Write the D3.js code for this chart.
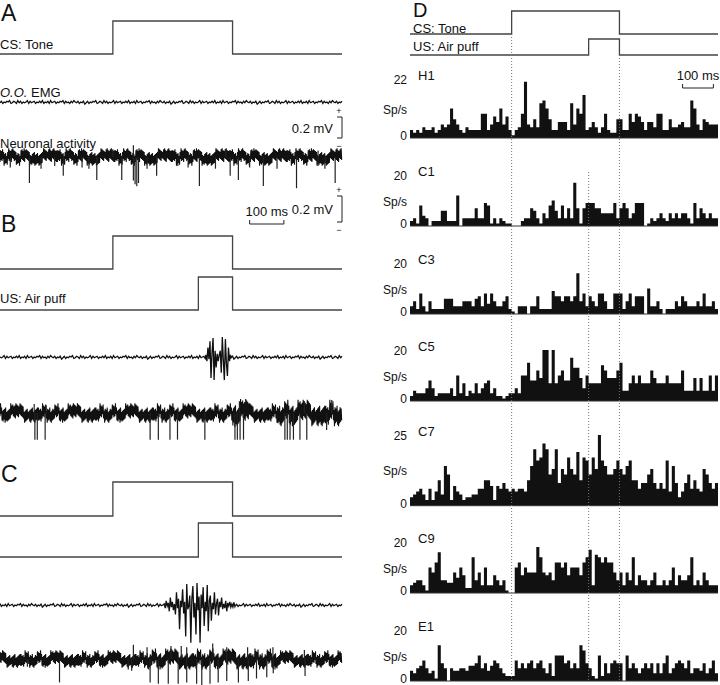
<!DOCTYPE html>
<html>
<head>
<meta charset="utf-8">
<script src="https://cdn.jsdelivr.net/npm/d3@7"></script>
<style>
body{margin:0;background:#fff;}
text{font-family:"Liberation Sans",Arial,sans-serif;fill:#111;}
</style>
</head>
<body>
<div id="chart"></div>
<script>
// time axis shared by all panels (ms from CS onset)
var tStart = -330, tEnd = 670, binMs = 10;
var csOn = 0, csOff = 350, usOn = 250, usOff = 350;

// PSTH units (panel D), spikes/s per 10 ms bin
var units = ["H1","C1","C3","C5","C7","C9","E1"];
var unitMax = [22,20,20,20,25,20,20];
var H1 = [3,2,3,2,4,3,3,4,2,3,5,4,5,11,7,5,3,2,4,3,3,3,3,9,9,3,5,8,6,11,5,8,3,1,3,4,9,21,5,4,7,4,13,14,11,7,3,3,6,6,6,3,13,5,11,9,16,3,4,6,4,2,4,9,3,2,2,7,7,3,3,9,6,9,8,6,3,6,6,4,9,9,3,3,7,4,4,5,6,4,4,14,11,5,3,7,6,5,5,5];
var C1 = [2,3,1,8,4,3,0,2,2,2,6,6,2,2,2,12,0,3,3,3,3,7,3,3,9,8,1,3,1,3,2,1,1,0,0,0,2,3,3,7,6,3,1,5,3,8,10,6,3,8,3,7,3,17,7,1,7,9,9,9,7,7,5,5,5,5,9,3,7,9,7,3,5,9,9,9,0,1,3,2,3,5,3,2,5,3,5,3,5,5,3,1,9,3,7,5,3,5,3,3];
var C3 = [3,5,2,8,3,1,5,2,2,2,2,6,6,6,3,3,3,5,5,5,3,6,7,3,8,4,8,5,3,3,5,7,2,1,0,3,3,3,0,3,3,7,2,2,2,2,9,7,7,5,7,7,5,7,16,5,8,3,7,5,3,8,8,5,2,2,8,8,8,2,5,8,3,7,7,7,0,10,3,3,5,2,0,2,2,2,5,3,7,5,3,3,3,5,3,8,3,3,5,2];
var C5 = [2,4,3,3,3,5,8,5,2,3,3,3,3,5,2,10,3,7,2,4,3,7,3,5,7,8,3,5,2,2,1,2,3,3,5,3,10,10,15,8,8,12,9,20,20,7,20,7,10,12,8,8,17,13,13,9,5,10,7,7,7,7,14,12,9,9,9,12,15,4,4,7,10,7,10,7,7,7,12,9,7,7,7,10,7,7,7,7,12,4,4,4,9,4,9,4,4,10,4,10];
var C7 = [3,4,5,6,4,2,6,2,5,9,4,14,11,2,7,5,4,2,3,3,4,4,6,6,9,9,7,2,7,6,8,6,5,6,5,6,6,5,9,14,20,16,17,22,20,11,13,20,8,13,11,17,13,11,19,9,17,16,11,17,13,25,16,14,11,11,13,16,13,11,14,16,9,9,6,8,8,11,13,8,6,8,6,16,5,14,8,3,5,8,11,6,9,6,5,13,11,8,6,8];
var C9 = [3,4,5,5,3,1,10,8,12,16,5,5,4,4,8,6,10,7,2,2,14,5,8,3,10,3,3,7,5,3,5,1,0,0,10,12,7,10,8,8,8,18,14,8,7,8,5,12,12,10,12,7,10,10,10,7,12,14,17,3,15,14,12,14,12,12,8,5,8,3,8,5,14,3,7,5,5,3,5,8,3,3,5,3,5,10,3,7,5,5,7,14,3,5,3,8,5,3,3,3];
var E1 = [4,3,5,6,8,5,3,4,1,14,7,5,0,5,4,4,5,5,4,6,6,7,10,5,7,4,6,8,7,5,3,2,2,2,8,5,7,5,7,8,5,7,8,5,3,7,2,10,10,10,7,8,5,7,5,14,12,7,5,2,1,10,2,7,3,7,8,7,7,0,10,5,7,5,3,5,7,5,7,3,7,3,7,10,3,5,7,8,7,5,8,3,5,5,4,7,3,5,8,3];
var rates = [H1,C1,C3,C5,C7,C9,E1];

// raw traces (panels A-C): typed noise strings, EMG bursts (uV), spikes [ms, uV]
var emgNoise = "463546573465374635457364563546473546374563546573645364754635462";
var neuroNoise = "5736482593746185294736581927463582746391572836495718273645927183647592837461928374651928374615283947561829374657";
var bBurst = [20,-40,90,-20,150,-200,40,180,-220,60,-100,30,-40,20,60,-150,190,-30,-220,170,-60,-180,90,-40,20];
var cBurst = [10,-30,40,-10,20,-60,70,-20,30,-50,10,-90,120,-30,60,-230,40,-20,150,-80,30,-300,200,-40,-10,90,-360,60,180,-120,20,-280,210,-50,80,-360,100,-30,170,-200,30,-60,190,-250,40,90,-150,20,-40,120,-90,10,60,-100,30,-20,70,-40,10,-30,40,-60,20,-10,30,-20,10,-20,25,-15];
var aSpikes = [[-244,-200],[-145,-144],[-47,-176],[26,-176],[60,-180],[65,-210],[70,-225],[75,-200],[128,-144],[253,-224],[343,-144],[367,-176],[440,-224],[537,-240],[650,-200],
  [-300,-80],[-210,-90],[-170,-70],[-90,-80],[-70,-90],[100,-90],[190,-70],[220,-80],[300,-90],[400,-80],[480,-90],[600,-70],[620,-90],
  [0,60],[60,90],[330,60],[600,50]];
var bSpikes = [[-228,-205],[-221,-205],[-198,-205],[109,-205],[133,-205],[167,-205],[189,-205],[269,-205],[357,-205],[364,-205],[372,-205],[382,-205],[503,-205],[510,-205],[518,-205],[528,-205],[547,-205],[567,-205],[625,-130],
  [-230,70],[-195,60],[370,90],[560,90],[640,100]];
var cSpikes = [[-156,-180],[109,-180],[133,-190],[162,-190],[191,-190],[216,-180],[245,-190],[260,-200],[284,-190],[308,-180],[333,-170],[367,-180],[396,-170],[420,-150],[450,-140],[469,-110],[562,-130],[45,-80],[55,-90],[-250,-60],
  [60,110],[100,90],[170,100],[200,100],[216,90],[292,120],[333,90],[394,90],[468,90],[560,70]];
var aGain = [[-330,670,1]];
var bGain = [[-330,350,1.1],[350,400,1.6],[400,480,1.1],[480,670,1.5]];
var cGain = [[-330,100,1],[100,480,1.2],[480,670,1]];

var svg = d3.select('#chart').append('svg').attr('width',720).attr('height',685);

var xL = d3.scaleLinear().domain([tStart,tEnd]).range([0,342]);
var xR = d3.scaleLinear().domain([tStart,tEnd]).range([410,718]);
var emgAmp = d3.scaleLinear().domain([0,200]).range([0,21]);
var neuroAmp = d3.scaleLinear().domain([0,200]).range([0,26]);

function label(x,y,txt,size,anchor){
    return svg.append('text').attr('x',x).attr('y',y)
	.attr('font-size',size).attr('text-anchor',anchor||'start').text(txt);
}

function stimTrace(x,on,off,yLow,yHigh){
    var y = d3.scaleLinear().domain([0,1]).range([yLow,yHigh]);
    var pts = [[x.domain()[0],0],[on,0],[on,1],[off,1],[off,0],[x.domain()[1],0]];
    svg.append('path')
	.attr('d',d3.line().x(function(d){return x(d[0]);}).y(function(d){return y(d[1]);})(pts))
	.attr('fill','none').attr('stroke','#444').attr('stroke-width',1.3);
}

function emgTrace(yc,offset,burst,bStart,bStep){
    var pts = [];
    var bEnd = burst ? bStart+bStep*(burst.length-1) : null;
    for (var i=0; tStart+4*i<=tEnd; i++){
	var t = tStart+4*i;
	if (burst && t>=bStart && t<=bEnd) continue;
	pts.push([t,(+emgNoise.charAt((i+offset)%emgNoise.length)-5)*7]);
    }
    if (burst){
	burst.forEach(function(v,j){ pts.push([bStart+bStep*j,v]); });
	pts.sort(function(a,b){return a[0]-b[0];});
    }
    svg.append('path')
	.attr('d',d3.line().x(function(d){return xL(d[0]);})
	      .y(function(d){return yc-Math.sign(d[1])*emgAmp(Math.abs(d[1]));})(pts))
	.attr('fill','none').attr('stroke','#111').attr('stroke-width',1.3);
}

function gainAt(gains,t){
    for (var g of gains){ if (t>=g[0] && t<=g[1]) return g[2]; }
    return 1;
}

function neuroTrace(yc,offset,gains,spikes){
    var pts = [];
    for (var i=0; tStart+1.5*i<=tEnd; i++){
	var t = tStart+1.5*i;
	var d = +neuroNoise.charAt((i+offset)%neuroNoise.length);
	pts.push([t,(i%2 ? 1 : -1)*d*7.5*gainAt(gains,t)]);
    }
    svg.append('path')
	.attr('d',d3.line().x(function(d){return xL(d[0]);})
	      .y(function(d){return yc-Math.sign(d[1])*neuroAmp(Math.abs(d[1]));})(pts))
	.attr('fill','none').attr('stroke','#111').attr('stroke-width',1.1);
    svg.selectAll(null).data(spikes).enter().append('line')
	.attr('x1',function(d){return xL(d[0]);}).attr('x2',function(d){return xL(d[0]);})
	.attr('y1',yc)
	.attr('y2',function(d){return yc-Math.sign(d[1])*neuroAmp(Math.abs(d[1]));})
	.attr('stroke','#222').attr('stroke-width',1.2);
}

function ampBar(x,yTop,scale){
    var h = scale(200);
    svg.append('path')
	.attr('d','M'+(x-5)+','+yTop+'H'+x+'V'+(yTop+h)+'H'+(x-5))
	.attr('fill','none').attr('stroke','#222').attr('stroke-width',1);
    label(x-3,yTop-3,'+',9,'middle');
    label(x-3,yTop+h+11,'\u2212',9,'middle');
    label(x-9,yTop+h/2+5,'0.2 mV',13,'end');
}

function timeBar(x,t0,y){
    svg.append('path')
	.attr('d','M'+x(t0)+','+(y-4)+'V'+y+'H'+x(t0+100)+'V'+(y-4))
	.attr('fill','none').attr('stroke','#222').attr('stroke-width',1);
    label((x(t0)+x(t0+100))/2,y-8,'100 ms',13,'middle');
}

// ---- panel A
label(1,21,'A',23);
stimTrace(xL,csOn,csOff,54,21);
label(0,49,'CS: Tone',13);
var emgLbl = label(0,97,'',13);
emgLbl.append('tspan').attr('font-style','italic').text('O.O.');
emgLbl.append('tspan').text(' EMG');
emgTrace(102,0);
ampBar(342,117,emgAmp);
label(0,148,'Neuronal activity',13);
neuroTrace(157,0,aGain,aSpikes);
ampBar(342,196,neuroAmp);
timeBar(xL,400,224);

// ---- panel B
label(1,232,'B',23);
stimTrace(xL,csOn,csOff,269,236);
stimTrace(xL,usOn,usOff,310,277);
label(0,303,'US: Air puff',13);
emgTrace(357,17,bBurst,272,3);
neuroTrace(413,37,bGain,bSpikes);

// ---- panel C
label(1,482,'C',23);
stimTrace(xL,csOn,csOff,516,482);
stimTrace(xL,usOn,usOff,557,523);
emgTrace(605,31,cBurst,150,3);
neuroTrace(659,71,cGain,cSpikes);

// ---- panel D
label(413,17,'D',20);
stimTrace(xR,csOn,csOff,34,11);
stimTrace(xR,usOn,usOff,55,39);
label(413,33,'CS: Tone',13);
label(413,51,'US: Air puff',13);
timeBar(xR,555,88);

var bases = [138,226,314,401,505.7,593,681];
var tops = [79,175,263,350,435,542,630];

rates.forEach(function(vals,i){
    var y = d3.scaleLinear().domain([0,unitMax[i]]).range([bases[i],tops[i]]);
    var pts = vals.concat([vals[vals.length-1]]);
    svg.append('path')
	.attr('d',d3.area().curve(d3.curveStepAfter)
	      .x(function(d,j){return xR(tStart+j*binMs);})
	      .y0(bases[i]).y1(function(d){return y(d);})(pts))
	.attr('fill','#111');
    svg.append('line').attr('x1',xR(tStart)).attr('x2',xR(tEnd))
	.attr('y1',bases[i]).attr('y2',bases[i])
	.attr('stroke','#333').attr('stroke-width',1);
    label(418,tops[i]+1,units[i],13);
    label(407,y(unitMax[i])+5,unitMax[i],12,'end');
    label(407,y(0)+2,0,12,'end');
    label(407,(bases[i]+tops[i])/2+5,'Sp/s',12,'end');
});

// dotted event markers
var markers = [[csOn,34],[usOn,172],[csOff,55]];
svg.selectAll('.marker').data(markers).enter().append('line')
    .attr('class','marker')
    .attr('x1',function(d){return xR(d[0]);}).attr('x2',function(d){return xR(d[0]);})
    .attr('y1',function(d){return d[1];}).attr('y2',682)
    .attr('stroke','#777').attr('stroke-width',1).attr('stroke-dasharray','1,2');
</script>
</body>
</html>
